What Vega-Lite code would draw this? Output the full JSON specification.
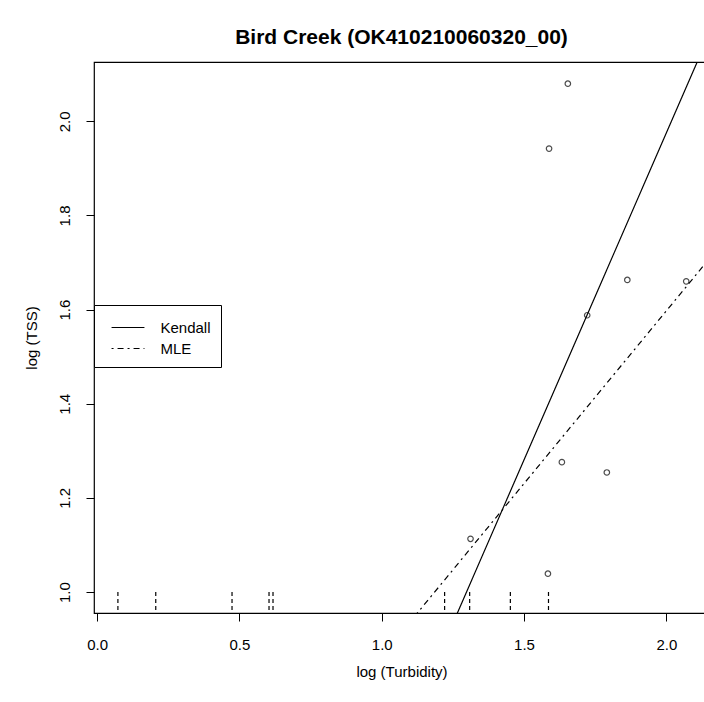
{
  "$schema": "https://vega.github.io/schema/vega-lite/v6.json",
  "autosize": "none",
  "padding": {"left": 94, "top": 62, "right": 0, "bottom": 89},
  "width": 615,
  "height": 551,
  "background": "white",
  "title": {
    "text": "Bird Creek (OK410210060320_00)",
    "font": "Liberation Sans",
    "fontSize": 21,
    "fontWeight": "bold",
    "color": "black",
    "anchor": "middle",
    "baseline": "alphabetic",
    "offset": -3
  },
  "config": {
    "view": {"stroke": "black", "strokeWidth": 1.2},
    "font": "Liberation Sans",
    "axis": {
      "grid": false,
      "domain": false,
      "tickColor": "black",
      "tickSize": 8,
      "labelColor": "black",
      "labelFont": "Liberation Sans",
      "labelFontSize": 15,
      "titleFont": "Liberation Sans",
      "titleFontSize": 15,
      "titleFontWeight": "normal",
      "titleColor": "black"
    }
  },
  "datasets": {
    "obs": [
      {"turb": 1.654, "tss": 2.080},
      {"turb": 1.588, "tss": 1.942},
      {"turb": 1.863, "tss": 1.663},
      {"turb": 1.722, "tss": 1.588},
      {"turb": 2.070, "tss": 1.660},
      {"turb": 1.633, "tss": 1.276},
      {"turb": 1.791, "tss": 1.254},
      {"turb": 1.312, "tss": 1.113},
      {"turb": 1.584, "tss": 1.039}
    ],
    "censored": [
      {"turb": 0.073, "tss": 1.0},
      {"turb": 0.206, "tss": 1.0},
      {"turb": 0.474, "tss": 1.0},
      {"turb": 0.604, "tss": 1.0},
      {"turb": 0.618, "tss": 1.0},
      {"turb": 1.221, "tss": 1.0},
      {"turb": 1.309, "tss": 1.0},
      {"turb": 1.452, "tss": 1.0},
      {"turb": 1.586, "tss": 1.0}
    ],
    "fits": [
      {"method": "Kendall", "turb": 1.2, "tss": 0.864},
      {"method": "Kendall", "turb": 2.2, "tss": 2.253},
      {"method": "MLE", "turb": 1.1, "tss": 0.937},
      {"method": "MLE", "turb": 2.2, "tss": 1.744}
    ]
  },
  "layer": [
    {
      "data": {"name": "censored"},
      "mark": {"type": "rule", "color": "black", "strokeWidth": 1.2, "strokeDash": [4, 3]},
      "encoding": {
        "x": {"field": "turb", "type": "quantitative", "scale": {"domain": [-0.011, 2.15], "nice": false, "zero": false},
          "axis": {"values": [0, 0.5, 1, 1.5, 2], "format": ".1f", "title": "log (Turbidity)", "labelPadding": 16, "titlePadding": 12}},
        "y": {"field": "tss", "type": "quantitative", "scale": {"domain": [0.9555, 2.126], "nice": false, "zero": false},
          "axis": {"values": [1.0, 1.2, 1.4, 1.6, 1.8, 2.0], "format": ".1f", "title": "log (TSS)", "labelAngle": -90, "labelAlign": "center", "labelBaseline": "bottom", "labelPadding": 14, "titlePadding": 18}},
        "y2": {"datum": 0.9555}
      }
    },
    {
      "data": {"name": "fits"},
      "mark": {"type": "line", "color": "black", "strokeWidth": 1.2, "clip": true},
      "encoding": {
        "x": {"field": "turb", "type": "quantitative"},
        "y": {"field": "tss", "type": "quantitative"},
        "strokeDash": {
          "field": "method", "type": "nominal",
          "scale": {"domain": ["Kendall", "MLE"], "range": [[1, 0], [2, 4, 6, 4]]},
          "legend": {
            "orient": "none", "legendX": 0, "legendY": 243,
            "title": null,
            "strokeColor": "black", "fillColor": "white",
            "padding": 10, "rowPadding": 0,
            "symbolType": "M-1.43,0H1.43", "symbolSize": 529, "symbolOffset": 11.5,
            "symbolStrokeColor": "black", "symbolStrokeWidth": 1.2,
            "labelFontSize": 15, "labelColor": "black", "labelOffset": 20,
            "cornerRadius": 0
          }
        }
      }
    },
    {
      "data": {"name": "obs"},
      "mark": {"type": "point", "shape": "circle", "filled": false, "color": "black", "size": 30, "strokeWidth": 1.2},
      "encoding": {
        "x": {"field": "turb", "type": "quantitative"},
        "y": {"field": "tss", "type": "quantitative"}
      }
    }
  ]
}
